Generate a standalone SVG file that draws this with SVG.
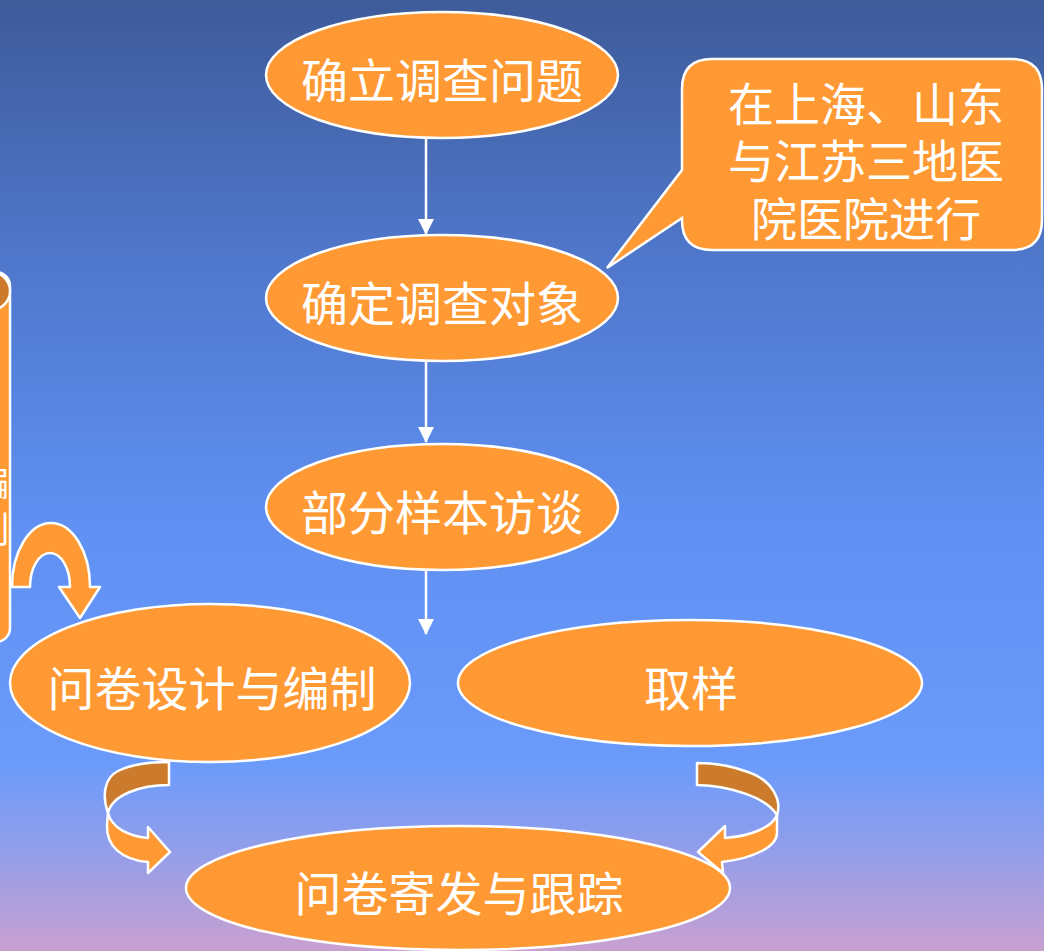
<svg xmlns="http://www.w3.org/2000/svg" width="1044" height="951" viewBox="0 0 1044 951">
<defs>
<linearGradient id="bg" x1="0" y1="0" x2="0" y2="1">
<stop offset="0" stop-color="#3e5b9a"/>
<stop offset="0.27" stop-color="#4f77cb"/>
<stop offset="0.55" stop-color="#5f90f2"/>
<stop offset="0.8" stop-color="#6a9bfb"/>
<stop offset="0.9" stop-color="#959ee9"/>
<stop offset="1" stop-color="#c9a0d0"/>
</linearGradient>
<marker id="ah" markerWidth="16" markerHeight="16" viewBox="0 0 16 16" refX="15" refY="8" orient="auto" markerUnits="userSpaceOnUse">
<path d="M0,0 L16,8 L0,16 Z" fill="#ffffff"/>
</marker>
<style>
.node{fill:#ff9933;stroke:#ffffff;stroke-width:2.5}
.dark{fill:#cc7a2b;stroke:#ffffff;stroke-width:2.5;stroke-linejoin:round}
.lt{fill:#ff9933;stroke:#ffffff;stroke-width:2.5;stroke-linejoin:round}
.t{font-family:"Noto Sans CJK SC","Noto Sans",sans-serif;font-size:47px;fill:#ffffff;text-anchor:middle;dominant-baseline:central}
.c{font-size:46px}
.s{font-size:36px;text-anchor:end}
.conn{stroke:#ffffff;stroke-width:2.5;fill:none}
</style>
</defs>
<rect x="0" y="0" width="1044" height="951" fill="url(#bg)"/>

<g id="scroll">
<rect x="-60" y="272" width="70" height="370" rx="14" class="lt"/>
<circle cx="-9" cy="291" r="19" class="dark"/>
<text x="9" y="480" class="t s">编</text>
<text x="9" y="527" class="t s">制</text>
</g>

<g id="connectors">
<line x1="426" y1="139" x2="426" y2="234" class="conn" marker-end="url(#ah)"/>
<line x1="426" y1="362" x2="426" y2="442" class="conn" marker-end="url(#ah)"/>
<line x1="426" y1="571" x2="426" y2="634" class="conn" marker-end="url(#ah)"/>
<path d="M12,587 A39,64 0 0 1 90,587 L100,587 L80,618 L59,587 L70,587 A20,34 0 0 0 30,587 Z" class="lt"/>
<path d="M169,762 L169,785 C140,785 112,795 108,813 C102,796 104,778 118,771 C132,764 150,762 169,762 Z" class="dark"/>
<path d="M108,813 C112,828 128,836 148,838 L148,827 L170,852 L148,873 L148,862 C122,860 106,846 107,825 Z" class="lt"/>
<path d="M697,763 L697,785 C730,786 766,797 777,815 C782,800 772,780 748,772 C732,766 715,763 697,763 Z" class="dark"/>
<path d="M777,815 C772,827 752,836 725,838 L725,826 L698,852 L723,873 L722,862 C755,858 778,846 777,832 Z" class="lt"/>
</g>

<g id="n1">
<ellipse cx="442" cy="75" rx="176" ry="63" class="node"/>
<text x="442" y="77" class="t">确立调查问题</text>
</g>
<g id="n2">
<ellipse cx="442" cy="298" rx="176" ry="63" class="node"/>
<text x="442" y="300" class="t">确定调查对象</text>
</g>
<g id="n3">
<ellipse cx="442" cy="507" rx="176" ry="63" class="node"/>
<text x="442" y="509" class="t">部分样本访谈</text>
</g>
<g id="n4">
<ellipse cx="210" cy="683" rx="200" ry="79" class="node"/>
<text x="212" y="685" class="t">问卷设计与编制</text>
</g>
<g id="n5">
<ellipse cx="690" cy="683" rx="232" ry="63" class="node"/>
<text x="691" y="685" class="t">取样</text>
</g>
<g id="n6">
<ellipse cx="458" cy="888" rx="272" ry="62" class="node"/>
<text x="459" y="890" class="t">问卷寄发与跟踪</text>
</g>

<g id="callout">
<path d="M712,59 L1012,59 Q1042,59 1042,89 L1042,220 Q1042,250 1012,250 L712,250 Q682,250 682,220 L682,218 L607,268 L682,170 L682,89 Q682,59 712,59 Z" class="node"/>
<text x="866" y="101" class="t c">在上海、山东</text>
<text x="866" y="158" class="t c">与江苏三地医</text>
<text x="866" y="216" class="t c">院医院进行</text>
</g>
</svg>
